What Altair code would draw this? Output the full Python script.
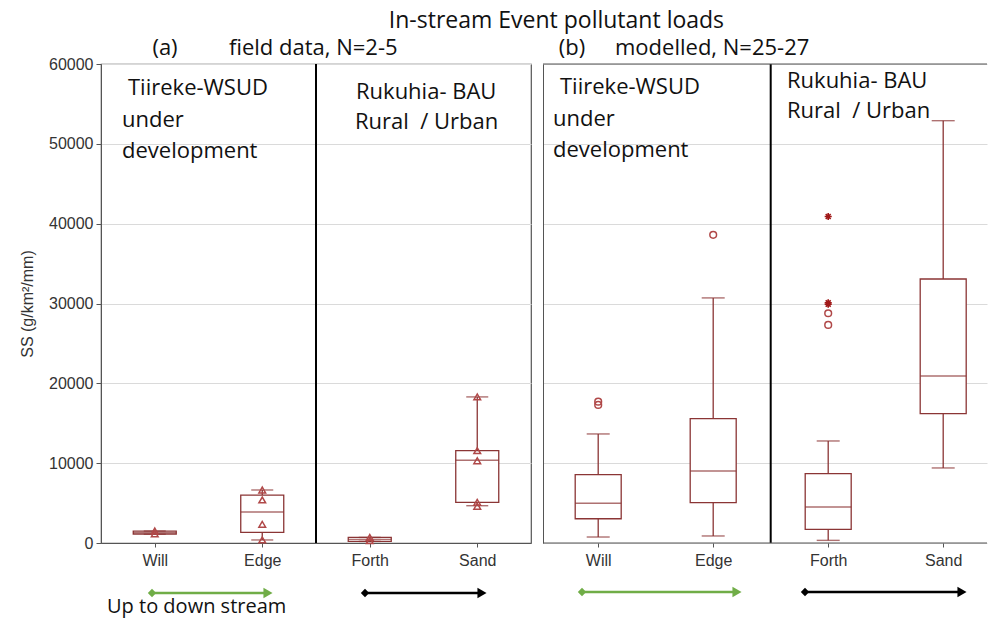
import altair as alt
import pandas as pd

cats = ["Will", "Edge", "Forth", "Sand"]

# (a) field data box statistics
field_lo = [1100, 380, 200, 4670]
field_q1 = [1130, 1340, 200, 5100]
field_med = [1300, 3880, 450, 10360]
field_q3 = [1500, 6000, 700, 11560]
field_hi = [1500, 6640, 700, 18300]
field_pt_cat = ["Will", "Will", "Edge", "Edge", "Edge", "Edge", "Forth", "Forth",
                "Sand", "Sand", "Sand", "Sand", "Sand"]
field_pt_val = [1500, 1150, 6640, 5390, 2340, 380, 700, 300,
                18300, 11560, 10300, 5100, 4600]

# (b) modelled box statistics
model_lo = [750, 880, 330, 9400]
model_q1 = [3040, 5050, 1710, 16200]
model_med = [4970, 9020, 4510, 20920]
model_q3 = [8560, 15570, 8680, 33070]
model_hi = [13660, 30700, 12780, 52900]
model_out_cat = ["Will", "Will", "Edge", "Forth", "Forth"]
model_out_val = [17700, 17300, 38600, 28780, 27320]
model_ext_cat = ["Forth", "Forth", "Forth"]
model_ext_val = [40900, 30100, 29900]

C_BOX = "#8B3535"
C_PT = "#B04848"
C_EXT = "#A01818"
GREEN = "#70AD47"
FONT_AX = "Liberation Sans"
FONT_TXT = "Open Sans"
H = 479
W_L = 430
W_R = 444
STEP_L = 107.5   # category spacing, px
STEP_R = 115.0
STAR = "M-1,0L1,0M0,-1L0,1M-0.7,-0.7L0.7,0.7M-0.7,0.7L0.7,-0.7"
TS = 22
LABEL_EXPR = "['Will','Edge','Forth','Sand'][datum.value]"


def with_idx(df):
    df = df.copy()
    df["idx"] = [cats.index(c) for c in df["cat"]]
    return df


def panel(lo, q1, med, q3, hi, W, step, x0, box_w, cap_w, show_labels, point_layers,
          texts, arrows, framed):
    stats = with_idx(pd.DataFrame({"cat": cats, "lo": lo, "q1": q1, "med": med,
                                   "q3": q3, "hi": hi}))
    xs = alt.Scale(domain=[x0, x0 + W / step], nice=False, zero=False, padding=0)
    ys = alt.Scale(domain=[0, 60000], nice=False)
    xax = alt.Axis(title=None, labelFont=FONT_AX, labelFontSize=16, labelColor="#333",
                   labelPadding=5, tickSize=4, tickColor="#555", domain=framed,
                   domainColor="#555", labelAngle=0, grid=False, values=[0, 1, 2, 3],
                   labelExpr=LABEL_EXPR, labelFlush=False, labelOverlap=False)
    if show_labels:
        yax = alt.Axis(title="SS (g/km\u00b2/mm)", titleFont=FONT_AX, titleFontSize=16,
                       titleFontWeight="normal", titleColor="#333", titlePadding=13,
                       labelFont=FONT_AX, labelFontSize=16, labelColor="#333",
                       labelPadding=3, tickSize=5, tickColor="#555",
                       values=[0, 10000, 20000, 30000, 40000, 50000, 60000],
                       format="d", domainColor="#555", gridColor="#DADADA",
                       labelFlush=False)
    else:
        yax = alt.Axis(title=None, labels=False, ticks=False, domainColor="#555",
                       values=[0, 10000, 20000, 30000, 40000, 50000, 60000],
                       gridColor="#DADADA")
    X = alt.X("idx:Q", scale=xs, axis=xax)

    def Y(f):
        return alt.Y(f + ":Q", scale=ys, axis=yax)

    base = alt.Chart(stats)
    layers = [
        base.mark_rule(color=C_BOX, strokeWidth=1.3).encode(x=X, y=Y("hi"), y2="q3"),
        base.mark_rule(color=C_BOX, strokeWidth=1.3).encode(x=X, y=Y("lo"), y2="q1"),
        base.mark_bar(fill="white", stroke=C_BOX, strokeWidth=1.3, size=box_w).encode(
            x=X, y=Y("q1"), y2="q3"),
        base.mark_tick(color=C_BOX, thickness=1.4, size=box_w, orient="horizontal").encode(
            x=X, y=Y("med")),
        base.mark_tick(color=C_BOX, thickness=1.4, size=cap_w, orient="horizontal").encode(
            x=X, y=Y("hi")),
        base.mark_tick(color=C_BOX, thickness=1.4, size=cap_w, orient="horizontal").encode(
            x=X, y=Y("lo")),
    ]
    for df, mk in point_layers:
        layers.append(alt.Chart(with_idx(df)).mark_point(**mk).encode(x=X, y=Y("val")))
    one = alt.Data(values=[{}])
    # divider
    layers.append(alt.Chart(one).mark_rule(color="black", strokeWidth=2).encode(
        x=alt.value((1.5 - x0) * step), y=alt.value(0), y2=alt.value(H)))
    if not framed:
        layers.append(alt.Chart(one).mark_rule(color="#555", strokeWidth=1).encode(
            x=alt.value(0), x2=alt.value(W), y=alt.value(0)))
        layers.append(alt.Chart(one).mark_rule(color="#555", strokeWidth=1).encode(
            x=alt.value(0), x2=alt.value(W), y=alt.value(H)))
    for t, x, y, size, align in texts:
        layers.append(alt.Chart(one).mark_text(
            font=FONT_TXT, fontSize=size, align=align, baseline="middle", color="#111"
        ).encode(x=alt.value(x), y=alt.value(y), text=alt.value(t)))
    for x1, x2, y, col in arrows:
        layers.append(alt.Chart(one).mark_rule(color=col, strokeWidth=2.5).encode(
            x=alt.value(x1), x2=alt.value(x2 - 6), y=alt.value(y)))
        layers.append(alt.Chart(one).mark_point(
            shape="diamond", filled=True, color=col, size=70, opacity=1).encode(
            x=alt.value(x1), y=alt.value(y)))
        layers.append(alt.Chart(one).mark_point(
            shape="triangle-right", filled=True, color=col, size=110, opacity=1).encode(
            x=alt.value(x2 - 5), y=alt.value(y)))
    view = alt.ViewBackground(stroke="#555", strokeWidth=1.2) if framed else \
        alt.ViewBackground(stroke="transparent")
    return alt.layer(*layers).properties(width=W, height=H, view=view)


field_pts = pd.DataFrame({"cat": field_pt_cat, "val": field_pt_val})
model_out = pd.DataFrame({"cat": model_out_cat, "val": model_out_val})
model_ext = pd.DataFrame({"cat": model_ext_cat, "val": model_ext_val})

left = panel(
    field_lo, field_q1, field_med, field_q3, field_hi, W_L, STEP_L, -0.5, 43, 22, True,
    [(field_pts, dict(shape="triangle-up", filled=False, color=C_PT, size=45,
                      strokeWidth=1.5, opacity=1))],
    [("(a)", 64, -16, TS, "center"),
     ("field data, N=2-5", 128, -16, TS, "left"),
     ("Tiireke-WSUD", 27, 24, TS, "left"),
     ("under", 21, 56, TS, "left"),
     ("development", 21, 87, TS, "left"),
     ("Rukuhia- BAU", 255, 28, TS, "left"),
     ("Rural\u00a0 / Urban", 254, 58, TS, "left"),
     ("Up to down stream", 6, 543, 20, "left")],
    [(51, 172, 529, GREEN), (264, 386, 529, "black")],
    True,
)

right = panel(
    model_lo, model_q1, model_med, model_q3, model_hi, W_R, STEP_R, -0.48, 46, 23, False,
    [(model_out, dict(shape="circle", filled=False, color=C_PT, size=45,
                      strokeWidth=1.5, opacity=1)),
     (model_ext, dict(shape=STAR, filled=False, color=C_EXT, size=50,
                      strokeWidth=1.6, opacity=1))],
    [("(b)", 29, -16, TS, "center"),
     ("modelled, N=25-27", 72, -16, TS, "left"),
     ("Tiireke-WSUD", 17, 23, TS, "left"),
     ("under", 10, 55, TS, "left"),
     ("development", 10, 86, TS, "left"),
     ("Rukuhia- BAU", 244, 17, TS, "left"),
     ("Rural\u00a0 / Urban", 244, 47, TS, "left")],
    [(39, 199, 528, GREEN), (262, 424, 528, "black")],
    False,
)

chart = alt.hconcat(left, right, spacing=10).properties(
    title=alt.TitleParams("In-stream Event pollutant loads", font=FONT_TXT, fontSize=23,
                          fontWeight="normal", color="#111", anchor="middle", dx=53,
                          offset=3),
    padding={"left": 10, "top": 2, "right": 0, "bottom": 0},
).configure(background="white")

chart.save("out.html", embed_options={"renderer": "svg", "actions": False})
